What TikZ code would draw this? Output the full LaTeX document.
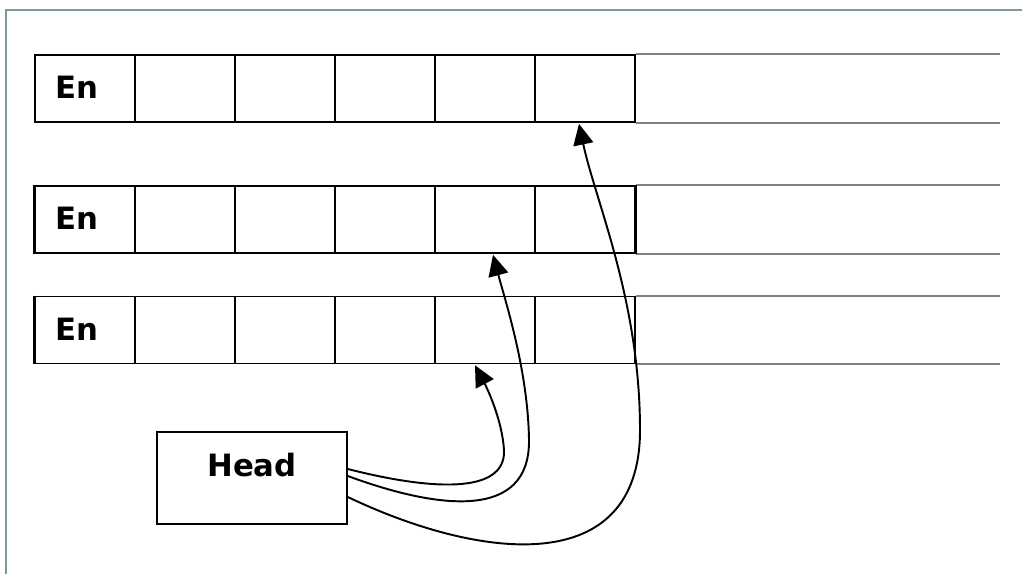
\documentclass[tikz,border=0pt]{standalone}
\usepackage{fontspec}
\setsansfont{DejaVu Sans}
\usepackage{tikz}
\usetikzlibrary{arrows.meta,calc,positioning}
\definecolor{framegray}{RGB}{128,150,160}

\begin{document}
\begin{tikzpicture}[x=0.2mm,y=-0.2mm,
    cell/.style={draw,line width=0.9pt,inner sep=0,minimum width=20mm,minimum height=13.4mm},
    tail/.style={draw=black!50,line width=1pt},
    txt/.style={font=\sffamily\bfseries\fontsize{17.5}{20}\selectfont,inner sep=0},
    link/.style={line width=1.1pt,-{Triangle[length=4.2mm,width=4mm]}}]
        \useasboundingbox (0,0) rectangle (1022,574);
        % frame at top and left
        \draw[framegray,line width=1.2pt] (6,574) -- (6,10) -- (1022,10);
        \coordinate (rim) at (1000,0);
        % the three rows of cells
        \foreach \r/\y in {1/88.5,2/219.5,3/330}{
          \foreach \c in {1,...,6}
            \node[cell] (c-\r-\c) at ({100*\c-15},\y) {};
          \node[txt] (en-\r) at (77,\y-1) {En};
          \draw[tail] (c-\r-6.north east) -- (c-\r-6.north east -| rim);
          \draw[tail] (c-\r-6.south east) -- (c-\r-6.south east -| rim);
        }
        \draw[line width=1.8pt] (c-2-1.north west) -- (c-2-1.south west);
        \draw[line width=1.8pt] (c-3-1.north west) -- (c-3-1.south west);
        \draw[line width=1.8pt] (c-2-6.north east) -- (c-2-6.south east);
        % head box
        \node[draw,line width=0.9pt,minimum width=38mm,minimum height=18.4mm] (head) at (252,478) {};
        \node[txt] (head-lbl) at (252,465) {Head};
        % links from head
        \draw[link] ($(head.east)+(0,-9)$) .. controls (430,490) and (506,495) .. (504,450)
          .. controls (502,420) and (488,390) .. ($(c-3-5.south)+(-10,1)$);
        \draw[link] ($(head.east)+(0,-2)$) .. controls (440,510) and (530,520) .. (529,440)
          .. controls (528,370) and (505,300) .. ($(c-2-5.south)+(8,1)$);
        \draw[link] ($(head.east)+(0,19)$) .. controls (480,560) and (640,580) .. (640,430)
          .. controls (640,300) and (595,200) .. ($(c-1-6.south)+(-6,1)$);
\end{tikzpicture}
\end{document}
